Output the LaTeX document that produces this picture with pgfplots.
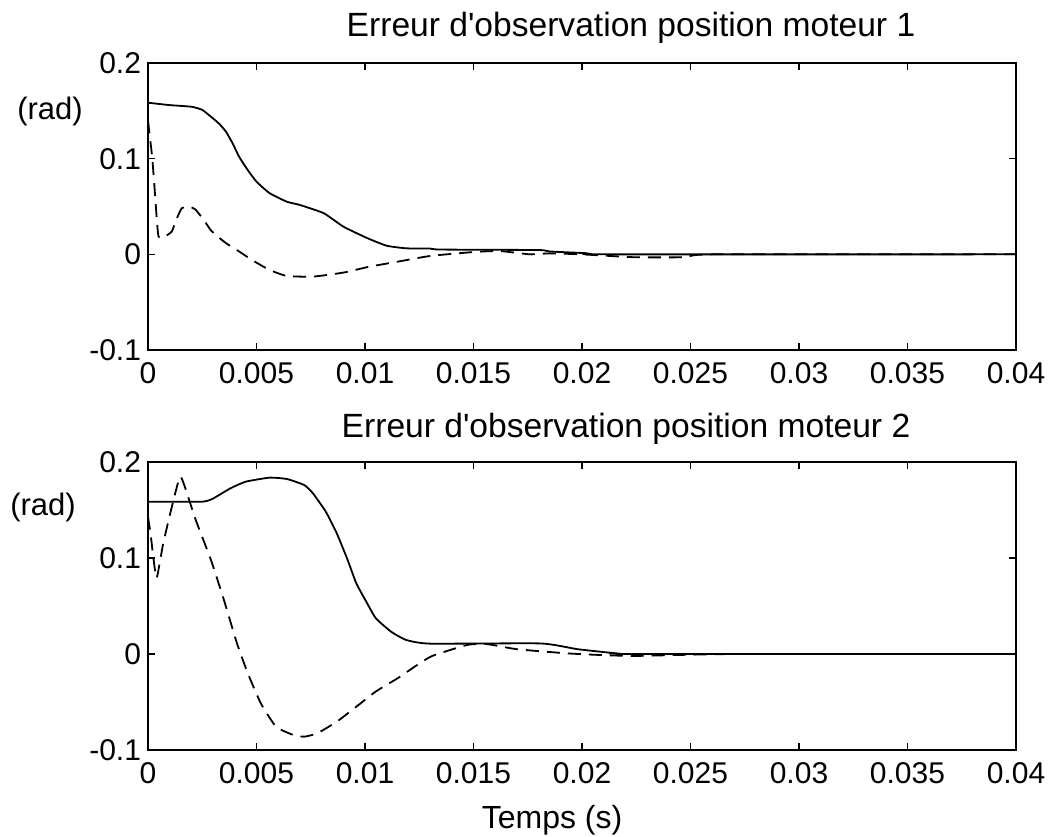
\documentclass[border=0pt]{standalone}
\usepackage{fontspec}
\setmainfont{Liberation Sans}
\usepackage{pgfplots}
\pgfplotsset{compat=1.18}

\pgfplotsset{
  motor/.style={
    width=434bp, scale only axis,
    xmin=0, xmax=0.04, ymin=-0.1, ymax=0.2,
    xtick={0,0.005,0.01,0.015,0.02,0.025,0.03,0.035,0.04},
    xticklabels={0,0.005,0.01,0.015,0.02,0.025,0.03,0.035,0.04},
    scaled x ticks=false, scaled y ticks=false,
    ytick={-0.1,0,0.1,0.2},
    yticklabels={-0.1,0,0.1,0.2},
    tick align=inside, tick pos=both,
    major tick length=3.5bp,
    axis line style={line width=1bp},
    every tick/.style={black, line width=0.8bp},
    tick label style={font=\fontsize{15bp}{18bp}\selectfont},
    xticklabel style={yshift=-3bp},
    clip=true,
  },
  reel/.style={black, line width=0.9bp, smooth, tension=0.3},
  obs/.style={black, line width=0.9bp, dash pattern=on 6.5bp off 4bp, smooth, tension=0.3},
}

\begin{document}
\begin{tikzpicture}
\path[use as bounding box] (0,0) rectangle (527bp,-418.5bp);

% moteur 1
\begin{axis}[motor, height=143.5bp, at={(74bp,-175bp)}, anchor=south west]
\addplot[reel] coordinates {
 (0,0.1585) (0.001,0.156) (0.002,0.1543) (0.0025,0.151) (0.003,0.142)
 (0.0033,0.136) (0.0036,0.128) (0.0039,0.116) (0.0042,0.102) (0.0046,0.088)
 (0.005,0.076) (0.0056,0.064) (0.0064,0.055) (0.007,0.0516) (0.0081,0.043)
 (0.009,0.029) (0.0101,0.017) (0.011,0.009) (0.0119,0.0063) (0.013,0.006)
 (0.0135,0.005) (0.018,0.0045) (0.0185,0.003) (0.0202,0.0012) (0.021,0) (0.04,0)
};
\addplot[obs] coordinates {
 (0,0.14) (0.0001,0.12) (0.0002,0.10) (0.0003,0.07) (0.00048,0.019)
 (0.0008,0.019) (0.0011,0.024) (0.0013,0.036) (0.00155,0.048) (0.0019,0.05)
 (0.0022,0.0465) (0.0026,0.035) (0.0029,0.025) (0.0033,0.017) (0.0036,0.0116)
 (0.0042,0.003) (0.0048,-0.006) (0.0056,-0.0163) (0.0064,-0.0226) (0.0076,-0.0233)
 (0.009,-0.0191) (0.0102,-0.0129) (0.0115,-0.0077) (0.013,-0.0017) (0.015,0.0024)
 (0.0162,0.0035) (0.0176,0) (0.0185,0.001) (0.02,0) (0.0224,-0.003)
 (0.0248,-0.003) (0.026,0) (0.04,0)
};
\end{axis}

% moteur 2
\begin{axis}[motor, height=144bp, at={(74bp,-375bp)}, anchor=south west]
\addplot[reel] coordinates {
 (0,0.1587) (0.0025,0.1587) (0.003,0.162) (0.0038,0.1726) (0.0045,0.1795)
 (0.0056,0.1837) (0.0064,0.1823) (0.0072,0.176) (0.0076,0.1674) (0.0082,0.148)
 (0.0087,0.1257) (0.0092,0.098) (0.0096,0.0736) (0.0101,0.0528) (0.0105,0.0372)
 (0.0112,0.0233) (0.0119,0.0146) (0.013,0.0108) (0.0181,0.011) (0.0198,0.005)
 (0.0216,0.0007) (0.0225,0) (0.04,0)
};
\addplot[obs] coordinates {
 (0,0.143) (0.00012,0.125) (0.00025,0.10) (0.0004,0.079) (0.0007,0.115)
 (0.0011,0.1535) (0.00147,0.1847) (0.0017,0.174) (0.0022,0.1396) (0.0029,0.098)
 (0.0035,0.0562) (0.0041,0.0111) (0.0046,-0.0201) (0.0052,-0.0514) (0.0059,-0.0757)
 (0.0067,-0.0844) (0.0072,-0.0861) (0.0078,-0.0826) (0.0087,-0.0705) (0.0096,-0.0549)
 (0.0105,-0.039) (0.0115,-0.0253) (0.0124,-0.0115) (0.0131,-0.002) (0.0147,0.0094)
 (0.0156,0.0104) (0.017,0.005) (0.0193,0.0007) (0.0208,-0.001) (0.0225,-0.002)
 (0.027,0) (0.04,0)
};
\end{axis}

\node[anchor=base, inner sep=0pt, font=\fontsize{16.8bp}{19bp}\selectfont] at (315.5bp,-18bp) {Erreur d\textquotesingle observation position moteur 1};
\node[anchor=base, inner sep=0pt, font=\fontsize{16.8bp}{19bp}\selectfont] at (313bp,-218.5bp) {Erreur d\textquotesingle observation position moteur 2};
\node[inner sep=0pt, font=\fontsize{15.5bp}{18bp}\selectfont] at (25bp,-55.5bp) {(rad)};
\node[inner sep=0pt, font=\fontsize{15.5bp}{18bp}\selectfont] at (21.5bp,-253.5bp) {(rad)};
\node[anchor=base, inner sep=0pt, font=\fontsize{16bp}{19bp}\selectfont] at (276bp,-414bp) {Temps (s)};
\end{tikzpicture}
\end{document}
